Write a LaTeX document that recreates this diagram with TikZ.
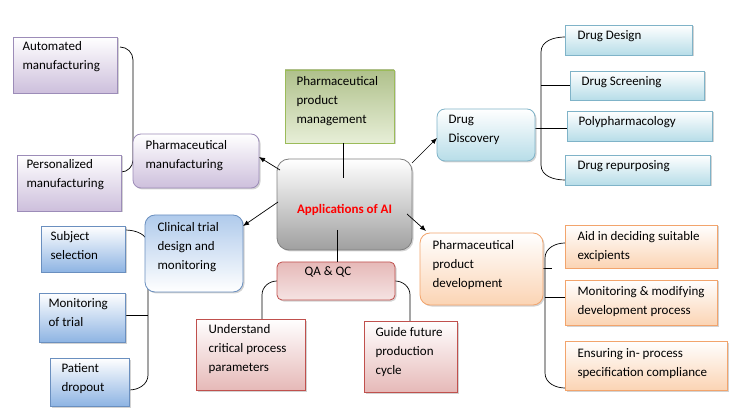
\documentclass[tikz,border=0pt]{standalone}
\usepackage{fontspec}
\setmainfont{Carlito}
\usetikzlibrary{shadows,arrows.meta}
\definecolor{pur}{HTML}{CDBFDC}\definecolor{purd}{HTML}{9C8CB8}
\definecolor{blu}{HTML}{B7DDE8}\definecolor{blud}{HTML}{7FB3C8}
\definecolor{cblu}{HTML}{8EB4E3}\definecolor{cblud}{HTML}{6A8FBF}
\definecolor{grn}{HTML}{C3D69B}\definecolor{grnd}{HTML}{9BBB59}
\definecolor{pnk}{HTML}{E6B9B8}\definecolor{pnkd}{HTML}{C0504D}
\definecolor{org}{HTML}{FBD4B4}\definecolor{orgd}{HTML}{F2A46C}
\tikzset{
 box/.style={draw=#1d, line width=0.8pt, drop shadow={shadow xshift=1.5pt,shadow yshift=-1.5pt,opacity=0.35}},
 t/.style={font=\fontsize{13}{19}\selectfont, align=left, anchor=north west},
 ln/.style={line width=0.7pt, black},
 ar/.style={ln, -{Latex[length=6pt,width=5pt]}}
}
\newcommand{\bxr}[6]{%
 \path[box=#1, top color=white, bottom color=#1, rounded corners=#6] (#2,-#3) rectangle (#4,-#5);}
\begin{document}
\begin{tikzpicture}[x=1pt,y=1pt]
\useasboundingbox (0,0) rectangle (738,-419);
% connectors
\draw[ln] (120,-47) to[out=0,in=90] (133,-60) -- (133,-160) to[out=-90,in=0] (121,-172);
\draw[ln] (565,-37) to[out=180,in=90] (541,-52) -- (541,-165) to[out=-90,in=180] (565,-180);
\draw[ln] (535,-128) -- (567,-128);
\draw[ln] (541,-85) -- (570,-85);
\draw[ln] (565,-243) to[out=180,in=90] (545,-258) -- (545,-373) to[out=-90,in=180] (565,-388);
\draw[ln] (543,-268) -- (552,-268);
\draw[ln] (545,-297) -- (565,-297);
\draw[ln] (125,-230) to[out=0,in=90] (148,-245) -- (148,-375) to[out=-90,in=0] (129,-390);
\draw[ln] (125,-315) -- (148,-315);
\draw[ln] (277,-281) to[out=180,in=90] (262,-295) -- (262,-319);
\draw[ln] (395,-281) to[out=0,in=90] (410,-295) -- (410,-321);
% boxes
\bxr{pur}{13}{37}{117}{93}{0pt}
\bxr{pur}{17}{155}{121}{211}{0pt}
\bxr{pur}{133}{134}{259}{188}{8pt}
\path[box=grn, top color=grn!90!black, bottom color=grn!40] (285,-70) rectangle (394,-143);
\path[draw=gray, line width=0.8pt, top color=white, bottom color=gray!75, rounded corners=12pt, drop shadow={shadow xshift=1.5pt,shadow yshift=-1.5pt,opacity=0.35}] (277,-159) rectangle (412,-250);
\bxr{blu}{437}{109}{535}{161}{8pt}
\bxr{blu}{565}{25}{692}{55}{0pt}
\bxr{blu}{570}{71}{704}{100}{0pt}
\bxr{blu}{567}{111}{712}{141}{0pt}
\bxr{blu}{565}{155}{710}{185}{0pt}
\path[box=cblu, top color=cblu!70, bottom color=white, rounded corners=10pt] (145,-215) rectangle (243,-292);
\bxr{cblu}{41}{226}{125}{272}{0pt}
\bxr{cblu}{39}{293}{125}{342}{0pt}
\bxr{cblu}{50}{358}{129}{406}{0pt}
\path[box=pnk, top color=pnk, bottom color=pnk!40, rounded corners=5pt] (277,-262) rectangle (395,-300);
\path[box=pnk, top color=white, bottom color=pnk] (196,-319) rectangle (305,-390);
\path[box=pnk, top color=white, bottom color=pnk] (364,-321) rectangle (457,-392);
\path[box=org, top color=white, bottom color=org, rounded corners=10pt] (420,-233) rectangle (543,-305);
\bxr{org}{565}{225}{717}{268}{0pt}
\bxr{org}{565}{280}{717}{325}{0pt}
\bxr{org}{565}{341}{727}{390}{0pt}
% center lines and arrows
\draw[ln] (343,-143) -- (343,-178);
\draw[ln] (337,-230) -- (337,-262);
\draw[ar] (280,-170) -- (259,-157);
\draw[ar] (412,-163) -- (437,-138);
\draw[ar] (407,-214) -- (426,-231);
\draw[ar] (278,-202) -- (243,-226);
% texts
\node[t] (a1) at (19,-38) {Automated\\manufacturing};
\node[t] (a2) at (23,-156) {Personalized\\manufacturing};
\node[t] (a3) at (142,-137) {Pharmaceutical\\manufacturing};
\node[t] (a4) at (293,-73) {Pharmaceutical\\product\\management};
\node[font=\fontsize{13}{15}\selectfont\bfseries, text=red] (c) at (344.5,-210) {Applications of AI};
\node[t] (d) at (445,-112) {Drug\\Discovery};
\node[t] (d1) at (574,-27) {Drug Design};
\node[t] (d2) at (578,-73) {Drug Screening};
\node[t] (d3) at (575,-113) {Polypharmacology};
\node[t] (d4) at (574,-157) {Drug repurposing};
\node[t] (e) at (154,-219) {Clinical trial\\design and\\monitoring};
\node[t] (e1) at (47,-228) {Subject\\selection};
\node[t] (e2) at (45,-295) {Monitoring\\of trial};
\node[t] (e3) at (58,-360) {Patient\\dropout};
\node[font=\fontsize{13}{15}\selectfont] (q) at (328,-272) {QA \& QC};
\node[t] (q1) at (205,-321) {Understand\\critical process\\parameters};
\node[t] (q2) at (372,-324) {Guide future\\production\\cycle};
\node[t] (p) at (429,-237) {Pharmaceutical\\product\\development};
\node[t] (p1) at (574,-228) {Aid in deciding suitable\\excipients};
\node[t] (p2) at (574,-283) {Monitoring \& modifying\\development process};
\node[t] (p3) at (574,-345) {Ensuring in- process\\specification compliance};
\end{tikzpicture}
\end{document}
